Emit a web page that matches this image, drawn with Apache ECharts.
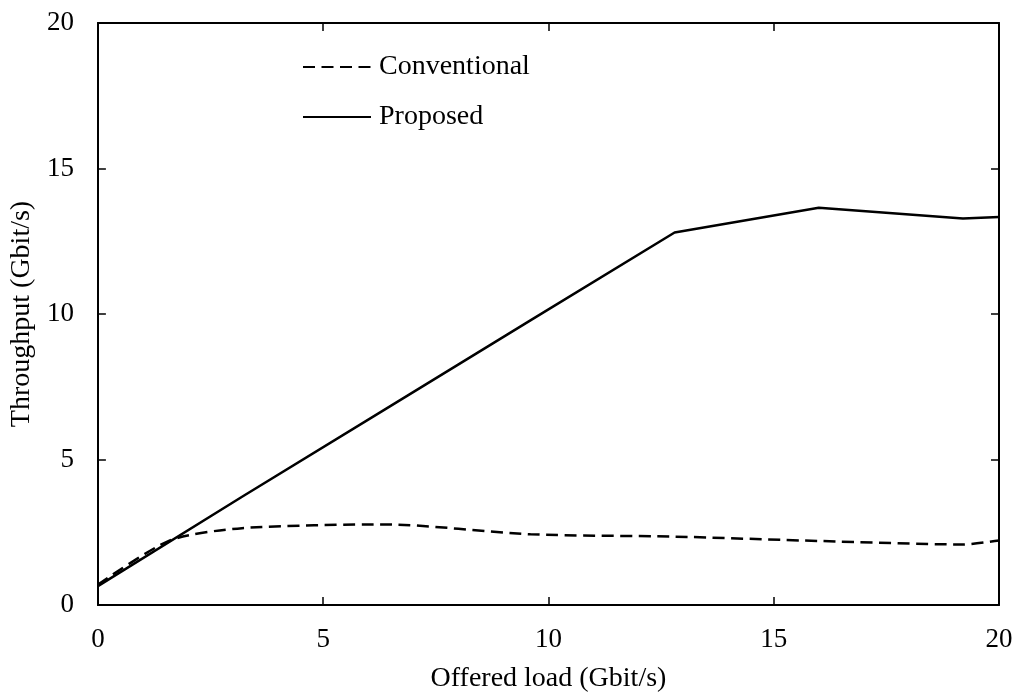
<!DOCTYPE html>
<html>
<head>
<meta charset="utf-8">
<script src="https://cdn.jsdelivr.net/npm/echarts@6/dist/echarts.min.js"></script>
<style>
  html, body { margin: 0; padding: 0; background: #fff; }
  #chart { width: 1018px; height: 698px; }
</style>
</head>
<body>
<div id="chart"></div>
<script>
// Offered load (Gbit/s) at each measurement point
const loadPoints = [0, 1.6, 3.2, 6.4, 9.6, 12.8, 16, 19.2, 20];
// Throughput (Gbit/s) for each scheme
const conventional = [0.7, 2.22, 2.64, 2.77, 2.43, 2.35, 2.2, 2.08, 2.22];
const proposedLoad = [0, 3.2, 6.4, 9.6, 12.8, 16, 19.2, 20];
const proposed = [0.65, 3.72, 6.75, 9.78, 12.8, 13.65, 13.28, 13.33];

const seriesNames = ['Conventional', 'Proposed'];
const xTitle = 'Offered load (Gbit/s)';
const yTitle = 'Throughput (Gbit/s)';

const FONT = 'Liberation Serif';

function pairs(xs, ys) { return xs.map((x, i) => [x, ys[i]]); }

const chart = echarts.init(document.getElementById('chart'), null, { renderer: 'canvas' });

const tickCfg = { show: true, inside: true, length: 8, lineStyle: { color: '#000', width: 1.5 } };
const lineCfg = { show: true, onZero: false, lineStyle: { color: '#000', width: 2 } };

chart.setOption({
  backgroundColor: '#fff',
  animation: false,
  grid: { left: 97, right: 19, top: 23, bottom: 87, show: false },
  legend: {
    orient: 'vertical',
    left: 297,
    top: 48,
    itemWidth: 68,
    itemHeight: 14,
    itemGap: 22,
    data: seriesNames,
    itemStyle: { opacity: 0 },
    textStyle: { fontFamily: FONT, fontSize: 28, color: '#000', padding: [0, 0, 0, 3] }
  },
  xAxis: [
    {
      type: 'value', min: 0, max: 20, interval: 5,
      axisLine: lineCfg, axisTick: tickCfg, splitLine: { show: false },
      axisLabel: { fontFamily: FONT, fontSize: 27, color: '#000', margin: 21 },
      name: xTitle, nameLocation: 'middle', nameGap: 60,
      nameTextStyle: { fontFamily: FONT, fontSize: 28, color: '#000' }
    },
    {
      type: 'value', position: 'top', min: 0, max: 20, interval: 5,
      axisLine: lineCfg, axisTick: tickCfg, splitLine: { show: false },
      axisLabel: { show: false }
    }
  ],
  yAxis: [
    {
      type: 'value', min: 0, max: 20, interval: 5,
      axisLine: lineCfg, axisTick: tickCfg, splitLine: { show: false },
      axisLabel: { fontFamily: FONT, fontSize: 27, color: '#000', margin: 24 },
      name: yTitle, nameLocation: 'middle', nameGap: 60,
      nameTextStyle: { fontFamily: FONT, fontSize: 28, color: '#000' }
    },
    {
      type: 'value', position: 'right', min: 0, max: 20, interval: 5,
      axisLine: lineCfg, axisTick: tickCfg, splitLine: { show: false },
      axisLabel: { show: false }
    }
  ],
  series: [
    {
      name: seriesNames[0],
      type: 'line',
      data: pairs(loadPoints, conventional),
      symbol: 'none',
      smooth: 0.25,
      itemStyle: { color: '#000' },
      lineStyle: { color: '#000', width: 2.5, type: [12, 6.5] }
    },
    {
      name: seriesNames[1],
      type: 'line',
      data: pairs(proposedLoad, proposed),
      symbol: 'none',
      itemStyle: { color: '#000' },
      lineStyle: { color: '#000', width: 2.5, type: 'solid' }
    }
  ]
});
</script>
</body>
</html>
